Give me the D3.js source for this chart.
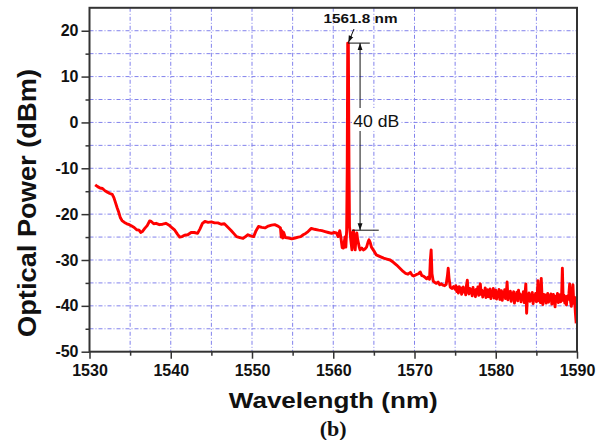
<!DOCTYPE html>
<html>
<head>
<meta charset="utf-8">
<script src="https://cdn.jsdelivr.net/npm/d3@7"></script>
<style>
  html, body { margin: 0; padding: 0; background: #fff; }
  svg { display: block; }
</style>
</head>
<body>
<svg id="chart" width="611" height="440"></svg>
<script>
// ---------------- data ----------------
const xDomain = [1530, 1590];
const yDomain = [-50, 25];
const xMajorTicks = [1530, 1540, 1550, 1560, 1570, 1580, 1590];
const xMinorTicks = [1535, 1545, 1555, 1565, 1575, 1585];
const yMajorTicks = [-50, -40, -30, -20, -10, 0, 10, 20];
const yMinorTicks = [-45, -35, -25, -15, -5, 5, 15];
const xGrid = [1535, 1540, 1545, 1550, 1555, 1560, 1565, 1570, 1575, 1580, 1585];
const yGrid = [-45, -40, -35, -30, -25, -20, -15, -10, -5, 0, 5, 10, 15, 20];

const xTitle = "Wavelength (nm)";
const yTitle = "Optical Power (dBm)";
const caption = "(b)";
const peakLabel = "1561.8 nm";
const dynLabel = "40 dB";
const peakWl = 1561.8, peakDb = 17.3, floorDb = -23.5, dimWl = 1563.3;

// [wavelength nm, power dBm]
const spectrum = [
[1530.7,-13.6],[1531.0,-14.0],[1531.3,-14.3],[1531.6,-14.4],[1531.9,-14.9],[1532.2,-15.2],[1532.5,-15.5],[1532.8,-15.7],
[1533.0,-16.4],[1533.2,-17.5],[1533.4,-18.6],[1533.6,-19.6],[1533.8,-20.8],[1534.0,-21.4],[1534.3,-21.8],[1534.6,-22.1],
[1534.9,-22.3],[1535.2,-22.6],[1535.5,-22.9],[1535.8,-23.4],[1536.1,-23.5],[1536.3,-24.0],[1536.5,-23.8],[1536.8,-23.1],
[1537.1,-22.5],[1537.4,-21.5],[1537.6,-21.6],[1537.9,-22.1],[1538.2,-22.0],[1538.6,-22.3],[1539.0,-22.2],[1539.4,-22.0],
[1539.8,-22.4],[1540.1,-22.9],[1540.5,-23.5],[1540.8,-24.3],[1541.1,-25.0],[1541.4,-24.9],[1541.7,-24.6],[1542.1,-24.5],
[1542.5,-24.0],[1542.9,-24.0],[1543.3,-24.2],[1543.6,-23.2],[1543.9,-22.0],[1544.2,-21.6],[1544.6,-21.8],[1545.0,-21.7],
[1545.4,-21.9],[1545.8,-21.9],[1546.2,-22.2],[1546.6,-22.1],[1547.0,-22.8],[1547.4,-23.5],[1547.8,-24.3],[1548.1,-24.9],
[1548.5,-25.1],[1548.9,-25.3],[1549.2,-24.9],[1549.5,-24.5],[1549.9,-24.8],[1550.2,-24.9],[1550.5,-23.6],[1550.8,-22.7],
[1551.2,-22.9],[1551.6,-23.0],[1552.0,-22.6],[1552.4,-22.4],[1552.8,-22.3],[1553.2,-22.6],[1553.5,-23.0],[1553.6,-25.0],
[1553.7,-23.6],[1553.8,-25.2],[1553.9,-24.0],[1554.1,-25.1],[1554.5,-25.2],[1554.9,-25.4],[1555.3,-25.2],[1555.7,-25.0],
[1556.0,-24.9],[1556.3,-24.5],[1556.6,-24.2],[1556.9,-23.8],[1557.3,-23.1],[1557.7,-23.3],[1558.2,-23.5],[1558.6,-23.6],
[1559.0,-23.8],[1559.4,-24.0],[1559.8,-24.2],[1560.1,-24.0],[1560.4,-24.1],[1560.6,-24.9],[1560.8,-23.6],[1560.95,-25.2],
[1561.1,-27.3],[1561.25,-27.4],[1561.45,-25.0],[1561.55,-27.2],[1561.65,-23.6],[1561.72,-10.0],[1561.78,17.3],[1561.86,17.3],
[1561.94,-10.0],[1562.0,-22.7],[1562.15,-25.5],[1562.3,-27.8],[1562.4,-24.0],[1562.5,-23.6],[1562.6,-26.5],[1562.7,-27.8],
[1562.8,-25.0],[1562.9,-24.1],[1563.0,-25.5],[1563.2,-27.2],[1563.3,-27.8],[1563.5,-27.4],[1563.7,-27.8],[1563.9,-27.6],
[1564.1,-27.2],[1564.3,-26.0],[1564.4,-25.6],[1564.55,-26.2],[1564.7,-27.2],[1565.0,-28.0],[1565.3,-28.9],[1565.7,-29.2],
[1566.2,-29.6],[1566.6,-29.8],[1567.0,-30.0],[1567.4,-30.5],[1567.8,-31.1],[1568.2,-31.8],[1568.6,-32.5],[1568.9,-32.9],
[1569.2,-33.1],[1569.5,-32.7],[1569.7,-33.3],[1569.9,-33.5],[1570.2,-33.2],[1570.5,-33.0],[1570.7,-32.6],[1570.9,-33.4],
[1571.1,-33.5],[1571.3,-33.8],[1571.5,-34.1],[1571.7,-33.7],[1571.85,-34.2],[1571.95,-30.0],[1572.05,-27.8],[1572.15,-33.0],
[1572.3,-34.6],[1572.5,-34.9],[1572.7,-35.1],[1572.9,-34.8],[1573.1,-35.4],[1573.3,-35.2],[1573.5,-35.5],[1573.7,-35.6],
[1573.9,-35.3],[1574.05,-33.5],[1574.15,-31.8],[1574.25,-34.0],[1574.4,-35.9],[1574.6,-36.2],[1574.8,-35.8],
[1575.0,-36.4],[1575.1,-35.6],[1575.2,-36.9],[1575.3,-36.0],[1575.4,-37.2],[1575.5,-35.8],[1575.6,-36.7],[1575.7,-36.1],[1575.8,-37.5],[1575.9,-36.3],
[1576.0,-35.9],[1576.1,-37.0],[1576.2,-36.4],[1576.3,-37.6],[1576.4,-35.5],[1576.5,-34.4],[1576.6,-36.8],[1576.7,-37.4],[1576.8,-36.2],[1576.9,-37.1],
[1577.0,-36.5],[1577.1,-37.8],[1577.2,-36.0],[1577.3,-37.3],[1577.4,-36.6],[1577.5,-38.0],[1577.6,-36.4],[1577.7,-37.2],[1577.8,-35.9],[1577.9,-37.7],
[1578.0,-36.3],[1578.1,-35.2],[1578.2,-37.5],[1578.3,-36.6],[1578.4,-38.1],[1578.5,-36.9],[1578.6,-37.4],[1578.7,-36.1],[1578.8,-38.2],[1578.9,-37.0],
[1579.0,-36.5],[1579.1,-38.0],[1579.2,-37.1],[1579.3,-36.3],[1579.4,-38.4],[1579.5,-36.8],[1579.6,-37.6],[1579.7,-36.2],[1579.8,-38.3],[1579.9,-37.2],
[1580.0,-36.6],[1580.1,-38.5],[1580.2,-37.0],[1580.3,-37.9],[1580.4,-36.4],[1580.5,-38.6],[1580.6,-37.3],[1580.7,-36.7],[1580.8,-38.8],[1580.9,-37.1],
[1581.0,-37.8],[1581.1,-36.5],[1581.2,-38.4],[1581.3,-37.2],[1581.4,-34.8],[1581.5,-38.7],[1581.6,-37.0],[1581.7,-38.2],[1581.8,-36.8],[1581.9,-39.0],
[1582.0,-37.3],[1582.1,-38.5],[1582.2,-36.9],[1582.3,-39.4],[1582.4,-37.6],[1582.5,-38.1],[1582.6,-37.0],[1582.7,-38.9],[1582.8,-36.6],[1582.9,-38.3],
[1583.0,-37.4],[1583.1,-39.1],[1583.2,-37.8],[1583.3,-38.4],[1583.4,-36.9],[1583.5,-39.3],[1583.6,-37.5],[1583.7,-35.2],[1583.8,-41.6],[1583.9,-37.9],
[1584.0,-38.6],[1584.1,-37.2],[1584.2,-39.0],[1584.3,-37.6],[1584.4,-38.8],[1584.5,-37.1],[1584.6,-39.5],[1584.7,-37.8],[1584.8,-38.5],[1584.9,-37.3],
[1585.0,-39.1],[1585.1,-37.7],[1585.2,-34.5],[1585.3,-38.9],[1585.4,-37.4],[1585.5,-39.3],[1585.6,-34.0],[1585.7,-38.2],[1585.8,-39.7],[1585.9,-37.5],
[1586.0,-38.9],[1586.1,-37.6],[1586.2,-39.4],[1586.3,-38.0],[1586.4,-37.3],[1586.5,-39.2],[1586.6,-37.8],[1586.7,-38.7],[1586.8,-37.4],[1586.9,-39.6],
[1587.0,-38.1],[1587.1,-37.5],[1587.2,-39.0],[1587.3,-40.2],[1587.4,-37.9],[1587.5,-38.6],[1587.6,-37.3],[1587.7,-39.3],[1587.8,-38.0],[1587.9,-37.6],
[1588.0,-39.1],[1588.1,-38.2],[1588.2,-31.8],[1588.3,-38.8],[1588.4,-37.7],[1588.5,-39.4],[1588.6,-38.0],[1588.7,-39.8],[1588.8,-37.9],[1588.9,-38.6],
[1589.0,-37.4],[1589.1,-35.2],[1589.2,-38.9],[1589.3,-40.1],[1589.4,-38.3],[1589.5,-35.4],[1589.6,-39.5],[1589.7,-38.1],[1589.8,-41.5],[1589.9,-43.8]
];

// ---------------- layout ----------------
const W = 611, H = 440;
const m = { left: 89.5, right: 34, top: 7.8, bottom: 88.3 };
const pw = W - m.left - m.right, ph = H - m.top - m.bottom;
const SANS = "'Liberation Sans', Arial, Helvetica, sans-serif";
const SERIF = "'Liberation Serif', 'Times New Roman', serif";

const svg = d3.select("#chart");
const x = d3.scaleLinear().domain(xDomain).range([m.left, m.left + pw]);
const y = d3.scaleLinear().domain(yDomain).range([m.top + ph, m.top]);

const gridColor = "#8282ec";
const axisColor = "#333";

// grid
const grid = svg.append("g").attr("class", "grid");
grid.selectAll("line.v").data(xGrid).join("line").attr("class", "v")
  .attr("x1", d => x(d)).attr("x2", d => x(d))
  .attr("y1", m.top).attr("y2", m.top + ph)
  .attr("stroke", gridColor).attr("stroke-width", 1)
  .attr("stroke-dasharray", "4,2,1,2");
grid.selectAll("line.h").data(yGrid).join("line").attr("class", "h")
  .attr("x1", m.left).attr("x2", m.left + pw)
  .attr("y1", d => y(d)).attr("y2", d => y(d))
  .attr("stroke", gridColor).attr("stroke-width", 1)
  .attr("stroke-dasharray", "4,2,1,2");

// clip
svg.append("clipPath").attr("id", "clip").append("rect")
  .attr("x", m.left).attr("y", m.top).attr("width", pw).attr("height", ph);

// spectrum
const line = d3.line().x(d => x(d[0])).y(d => y(d[1]));
svg.append("path").datum(spectrum)
  .attr("clip-path", "url(#clip)")
  .attr("fill", "none").attr("stroke", "#ff0000")
  .attr("stroke-width", 2.9).attr("stroke-linejoin", "round")
  .attr("d", line);

// axes
const fmt = d => String(d);
function styleAxis(g) {
  g.select(".domain").remove();
  g.selectAll(".tick line").attr("stroke", axisColor).attr("stroke-width", 1.5);
  g.selectAll(".tick text").attr("fill", "#111")
    .style("font-family", SANS).style("font-weight", "bold").style("font-size", "16px");
}
const xAxis = svg.append("g").attr("transform", `translate(0,${m.top + ph})`)
  .call(d3.axisBottom(x).tickValues(xMajorTicks).tickSize(7).tickPadding(6).tickFormat(fmt));
styleAxis(xAxis);
const xAxisMinor = svg.append("g").attr("transform", `translate(0,${m.top + ph})`)
  .call(d3.axisBottom(x).tickValues(xMinorTicks).tickSize(4).tickFormat(""));
styleAxis(xAxisMinor);

const yAxis = svg.append("g").attr("transform", `translate(${m.left},0)`)
  .call(d3.axisLeft(y).tickValues(yMajorTicks).tickSize(8).tickPadding(3).tickFormat(fmt));
styleAxis(yAxis);
const yAxisMinor = svg.append("g").attr("transform", `translate(${m.left},0)`)
  .call(d3.axisLeft(y).tickValues(yMinorTicks).tickSize(4).tickFormat(""));
styleAxis(yAxisMinor);

// frame
svg.append("rect").attr("x", m.left).attr("y", m.top).attr("width", pw).attr("height", ph)
  .attr("fill", "none").attr("stroke", axisColor).attr("stroke-width", 2);

// titles
svg.append("text").attr("x", m.left + pw / 2).attr("y", 407.5)
  .attr("text-anchor", "middle")
  .style("font-family", SANS).style("font-weight", "bold").style("font-size", "22px")
  .attr("textLength", 209).attr("lengthAdjust", "spacingAndGlyphs")
  .attr("fill", "#111").text(xTitle);

svg.append("text").attr("transform", "translate(36,203) rotate(-90)")
  .attr("text-anchor", "middle")
  .style("font-family", SANS).style("font-weight", "bold").style("font-size", "26px")
  .attr("textLength", 268).attr("lengthAdjust", "spacingAndGlyphs")
  .attr("fill", "#111").text(yTitle);

svg.append("text").attr("x", m.left + pw / 2).attr("y", 436)
  .attr("text-anchor", "middle")
  .style("font-family", SERIF).style("font-weight", "bold").style("font-size", "22px")
  .attr("fill", "#111").text(caption);

// annotations
const defs = svg.append("defs");
defs.append("marker").attr("id", "arr").attr("viewBox", "0 0 10 10")
  .attr("refX", 10).attr("refY", 5).attr("markerWidth", 7).attr("markerHeight", 7)
  .attr("orient", "auto-start-reverse")
  .append("path").attr("d", "M0,1.5 L10,5 L0,8.5 Z").attr("fill", "#111");

const ann = svg.append("g").attr("stroke", "#111").attr("stroke-width", 1);
svg.append("text").attr("x", 360.5).attr("y", 22.5).attr("text-anchor", "middle")
  .style("font-family", SANS).style("font-weight", "bold").style("font-size", "13px")
  .attr("textLength", 74).attr("lengthAdjust", "spacingAndGlyphs")
  .attr("fill", "#111").text(peakLabel);
ann.append("line").attr("x1", 354).attr("y1", 29).attr("x2", x(peakWl) + 0.5).attr("y2", y(peakDb) - 0.5)
  .attr("marker-end", "url(#arr)");
ann.append("line").attr("x1", x(dimWl)).attr("x2", x(dimWl))
  .attr("y1", y(peakDb)).attr("y2", y(floorDb))
  .attr("marker-start", "url(#arr)").attr("marker-end", "url(#arr)");
ann.append("line").attr("x1", x(1561.8)).attr("x2", x(1564.5))
  .attr("y1", y(peakDb)).attr("y2", y(peakDb));
ann.append("line").attr("x1", x(1562.3)).attr("x2", x(1565.6))
  .attr("y1", y(floorDb)).attr("y2", y(floorDb));
svg.append("rect").attr("x", 352).attr("y", 108).attr("width", 49).attr("height", 23).attr("fill", "#fff");
svg.append("text").attr("x", 376.3).attr("y", 126.5).attr("text-anchor", "middle")
  .style("font-family", SANS).style("font-size", "16px")
  .attr("textLength", 46).attr("lengthAdjust", "spacingAndGlyphs")
  .attr("fill", "#111").text(dynLabel);
</script>
</body>
</html>
